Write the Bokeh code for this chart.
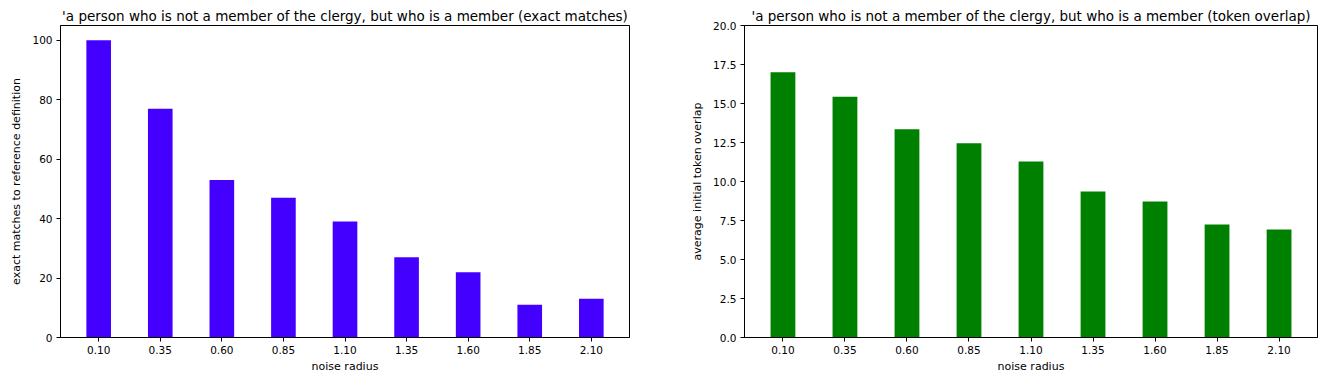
from bokeh.plotting import figure
from bokeh.layouts import row
from bokeh.models import FixedTicker, PrintfTickFormatter, Range1d
from bokeh.embed import file_html
from bokeh.resources import INLINE

noise_radius = [0.10, 0.35, 0.60, 0.85, 1.10, 1.35, 1.60, 1.85, 2.10]
exact_matches = [100, 77, 53, 47, 39, 27, 22, 11, 13]
token_overlap = [17.01, 15.43, 13.35, 12.45, 11.28, 9.36, 8.72, 7.24, 6.93]
x_ticks = [0.10, 0.35, 0.60, 0.85, 1.10, 1.35, 1.60, 1.85, 2.10]
left_y_ticks = [0, 20, 40, 60, 80, 100]
right_y_ticks = [0, 2.5, 5, 7.5, 10, 12.5, 15, 17.5, 20]

title_left = "'a person who is not a member of the clergy, but who is a member (exact matches)"
title_right = "'a person who is not a member of the clergy, but who is a member (token overlap)"

FONT = "DejaVu Sans"


def make(title, values, color, ylabel, ymax, yticks, yfmt, fw, bl, br):
    p = figure(frame_width=fw, frame_height=312, output_backend="svg",
               toolbar_location=None, title=title,
               x_range=Range1d(-0.055, 2.255), y_range=Range1d(0, ymax),
               min_border_left=bl, min_border_right=br,
               min_border_top=25, min_border_bottom=40)
    p.vbar(x=noise_radius, top=values, width=0.1, color=color, line_color=None)
    p.title.align = "center"
    p.title.text_font = FONT
    p.title.text_font_size = "13.5px"
    p.title.text_font_style = "normal"
    p.title.text_color = "black"
    p.title.standoff = 3
    p.outline_line_color = "black"
    p.outline_line_width = 1
    p.outline_line_alpha = 1
    p.xgrid.visible = False
    p.ygrid.visible = False
    for ax in (p.xaxis[0], p.yaxis[0]):
        ax.major_label_text_font = FONT
        ax.major_label_text_font_size = "10.5px"
        ax.axis_label_text_font = FONT
        ax.axis_label_text_font_size = "11px"
        ax.axis_label_text_font_style = "normal"
        ax.minor_tick_line_color = None
        ax.major_tick_in = 0
        ax.major_tick_out = 4
        ax.axis_line_color = "black"
        ax.major_tick_line_color = "black"
        ax.major_label_text_color = "black"
        ax.axis_label_text_color = "black"
    p.xaxis.ticker = FixedTicker(ticks=x_ticks)
    p.xaxis.formatter = PrintfTickFormatter(format="%.2f")
    p.xaxis.axis_label = "noise radius"
    p.xaxis.major_label_standoff = 4
    p.xaxis.axis_label_standoff = 3
    p.yaxis.ticker = FixedTicker(ticks=yticks)
    p.yaxis.formatter = PrintfTickFormatter(format=yfmt)
    p.yaxis.axis_label = ylabel
    p.yaxis.major_label_standoff = 4
    p.yaxis.axis_label_standoff = 6
    return p


p1 = make(title_left, exact_matches, "#4400ff",
          "exact matches to reference definition", 105, left_y_ticks, "%d",
          569, 60, 32)
p2 = make(title_right, token_overlap, "#008000",
          "average initial token overlap", 20, right_y_ticks, "%.1f",
          573, 83, 6)

layout = row(p1, p2)
open("out.html", "w").write(file_html(layout, INLINE))
